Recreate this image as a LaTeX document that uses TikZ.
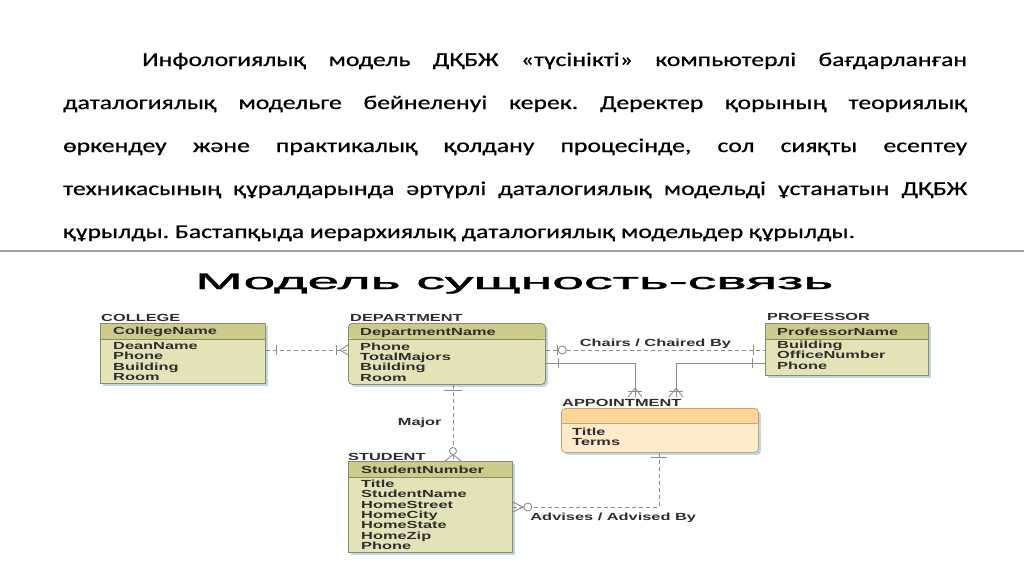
\documentclass[tikz,border=0pt]{standalone}
\usepackage{fontspec}
\setmainfont{Carlito}
\newfontfamily\pfam{Carlito}[FakeBold=0.5]
\newfontfamily\arialf{Liberation Sans}
\newfontfamily\titlef{Liberation Sans}[FakeBold=1.2]
\usetikzlibrary{calc,shadows}
\definecolor{olbody}{HTML}{E4E3B8}
\definecolor{olhead}{HTML}{CDCB8C}
\definecolor{olline}{HTML}{8E8C64}
\definecolor{orbody}{HTML}{FDEBCB}
\definecolor{orhead}{HTML}{FCD699}
\definecolor{orline}{HTML}{C9A36A}
\definecolor{connc}{HTML}{8C8C8C}
\definecolor{dtext}{HTML}{2E2E2E}
\definecolor{shblue}{HTML}{B9D2EC}
\definecolor{sepgray}{HTML}{A0A0A0}
\frenchspacing
\newcommand{\pfont}{\pfam\fontsize{19.5}{43}\selectfont}
\newcommand{\dfont}{\arialf\bfseries\fontsize{10.3}{10}\selectfont}
\def\dsc{1.59}
\newcommand{\dtxt}[1]{\scalebox{\dsc}[1]{\dfont #1}}
\newcommand{\dlist}[1]{\scalebox{\dsc}[1]{\dfont\begin{tabular}[t]{@{}l@{}}#1\end{tabular}}}
\newlength\lastlw
\tikzset{
  entbox/.style={draw=olline, line width=0.8pt, fill=olbody, anchor=north west, inner sep=0pt,
    drop shadow={shadow xshift=2.5pt, shadow yshift=-2.5pt, fill=shblue, opacity=0.9},
    path picture={
      \fill[olhead] (path picture bounding box.north west) rectangle ([yshift=-15.5pt]path picture bounding box.north east);
      \draw[olline, line width=0.8pt] ([yshift=-15.5pt]path picture bounding box.north west) -- ([yshift=-15.5pt]path picture bounding box.north east);
    }},
  apbox/.style={draw=orline, line width=0.8pt, fill=orbody, anchor=north west, inner sep=0pt, rounded corners=4pt,
    drop shadow={shadow xshift=2.5pt, shadow yshift=-2.5pt, fill=shblue, opacity=0.9},
    path picture={
      \fill[orhead] (path picture bounding box.north west) rectangle ([yshift=-15pt]path picture bounding box.north east);
      \draw[orline, line width=0.8pt] ([yshift=-15pt]path picture bounding box.north west) -- ([yshift=-15pt]path picture bounding box.north east);
    }},
  dlabel/.style={anchor=base west, inner sep=0pt, text=dtext},
  pline/.style={anchor=base west, inner sep=0pt, text=black},
  connl/.style={draw=connc, line width=0.9pt},
  connd/.style={draw=connc, line width=0.9pt, dash pattern=on 4pt off 3pt},
}
\begin{document}
\settowidth\lastlw{\pfont құрылды. Бастапқыда иерархиялық даталогиялық модельдер құрылды.}%
\edef\psc{\fpeval{792pt/\the\lastlw}}%
\begin{tikzpicture}[x=1pt,y=-1pt]
\fill[white] (0,0) rectangle (1024,574);
\useasboundingbox (0,0) rectangle (1024,574);
% paragraph
\node[pline] (p1) at (142,66) {\scalebox{\psc}[1]{\hbox to \fpeval{825/\psc}pt{\pfont Инфологиялық модель ДҚБЖ «түсінікті» компьютерлі бағдарланған}}};
\node[pline] (p2) at (63,109) {\scalebox{\psc}[1]{\hbox to \fpeval{904/\psc}pt{\pfont даталогиялық модельге бейнеленуі керек. Деректер қорының теориялық}}};
\node[pline] (p3) at (63,152) {\scalebox{\psc}[1]{\hbox to \fpeval{904/\psc}pt{\pfont өркендеу және практикалық қолдану процесінде, сол сияқты есептеу}}};
\node[pline] (p4) at (63,195) {\scalebox{\psc}[1]{\hbox to \fpeval{904/\psc}pt{\pfont техникасының құралдарында әртүрлі даталогиялық модельді ұстанатын ДҚБЖ}}};
\node[pline] (p5) at (63,238) {\scalebox{\psc}[1]{\pfont құрылды. Бастапқыда иерархиялық даталогиялық модельдер құрылды.}};
% separator
\draw[sepgray, line width=1.6pt] (0,251) -- (1024,251);
% title
\node[anchor=base west, inner sep=0pt] (title) at (195,289) {\resizebox{638pt}{15.5pt}{\titlef Модель сущность-связь}};
% entity boxes
\node[entbox, minimum width=165pt, minimum height=60pt] (college) at (100,323) {};
\node[entbox, rounded corners=4pt, minimum width=197pt, minimum height=61pt] (department) at (348,323) {};
\node[entbox, minimum width=163pt, minimum height=52pt] (professor) at (765,323) {};
\node[apbox, minimum width=197pt, minimum height=44pt] (appointment) at (561,408) {};
\node[entbox, minimum width=164pt, minimum height=91pt] (student) at (348,461) {};
% labels
\node[dlabel] (collegel) at (101,321) {\dtxt{COLLEGE}};
\node[dlabel] (departmentl) at (350,321) {\dtxt{DEPARTMENT}};
\node[dlabel] (professorl) at (767,320.5) {\dtxt{PROFESSOR}};
\node[dlabel] (appointmentl) at (562,406) {\dtxt{APPOINTMENT}};
\node[dlabel] (studentl) at (348,460) {\dtxt{STUDENT}};
% headers and attributes
\node[dlabel] (collegeh) at (113,334.5) {\dtxt{CollegeName}};
\node[dlabel] (collegea) at (113,349.5) {\dlist{DeanName\\Phone\\Building\\Room}};
\node[dlabel] (departmenth) at (360,335) {\dtxt{DepartmentName}};
\node[dlabel] (departmenta) at (360,350) {\dlist{Phone\\TotalMajors\\Building\\Room}};
\node[dlabel] (professorh) at (777,335) {\dtxt{ProfessorName}};
\node[dlabel] (professora) at (777,348.5) {\dlist{Building\\OfficeNumber\\Phone}};
\node[dlabel] (appointmenta) at (572,435) {\dlist{Title\\Terms}};
\node[dlabel] (studenth) at (361,473) {\dtxt{StudentNumber}};
\node[dlabel] (studenta) at (361,487.5) {\dlist{Title\\StudentName\\HomeStreet\\HomeCity\\HomeState\\HomeZip\\Phone}};
% connector end coordinates
\coordinate (c1a) at ([yshift=-27pt]college.north east);
\coordinate (c1b) at ([yshift=-27pt]department.north west);
\coordinate (c2a) at ([yshift=-27pt]department.north east);
\coordinate (c2b) at ([yshift=-27pt]professor.north west);
\coordinate (c3a) at ([yshift=-40pt]department.north east);
\coordinate (c3b) at ([shift={(74pt,11pt)}]appointment.north west);
\coordinate (c4a) at ([yshift=-40pt]professor.north west);
\coordinate (c4b) at ([shift={(115pt,11pt)}]appointment.north west);
\coordinate (c5a) at ([xshift=105pt]department.south west);
\coordinate (c5b) at ([xshift=105pt]student.north west);
\coordinate (c6a) at ([xshift=98pt]appointment.south west);
\coordinate (c6b) at ([yshift=-46pt]student.north east);
% College - Department
\draw[connd] (c1a) -- (c1b);
\draw[connl] (c1a) +(11,-5) -- +(11,5);
\draw[connl] (c1b) +(-12,-5) -- +(-12,5);
\draw[connl] (c1b) +(-8,0) -- +(0,-5) (c1b) +(-8,0) -- +(0,5);
% Department - Professor (Chairs)
\draw[connd] (c2a) -- (c2b) node[midway, anchor=base, yshift=3.5pt, inner sep=0pt, text=dtext] (chairs) {\dtxt{Chairs / Chaired By}};
\draw[connl] (c2a) +(12,-5) -- +(12,5);
\draw[connl, fill=white] ($(c2a)+(16.5,0)$) circle[radius=4pt];
\draw[connl] (c2b) +(-12,-5) -- +(-12,5);
% Department - Appointment
\draw[connl] (c3a) -| (c3b);
\draw[connl] (c3a) +(13,-5) -- +(13,5);
\draw[connl] (c3b) +(-7,-6) -- +(7,-6);
\draw[connl] (c3b) +(0,-9) -- +(-7,0) (c3b) +(0,-9) -- +(7,0);
% Professor - Appointment
\draw[connl] (c4a) -| (c4b);
\draw[connl] (c4a) +(-13,-5) -- +(-13,5);
\draw[connl] (c4b) +(-7,-6) -- +(7,-6);
\draw[connl] (c4b) +(0,-9) -- +(-7,0) (c4b) +(0,-9) -- +(7,0);
% Department - Student (Major)
\draw[connd] (c5a) -- (c5b) node[midway, left=11pt, inner sep=0pt, text=dtext] (major) {\dtxt{Major}};
\draw[connl] (c5a) +(-9,6) -- +(9,6);
\draw[connl] (c5b) +(0,-6.5) -- +(-8,0) (c5b) +(0,-6.5) -- +(8,0);
\draw[connl, fill=white] ($(c5b)+(0,-10)$) circle[radius=3.5pt];
% Appointment - Student (Advises)
\draw[connd] (c6a) |- (c6b);
\path (c6b) -- (c6a |- c6b) node[pos=0.687, anchor=base, yshift=-13pt, inner sep=0pt, text=dtext] (advises) {\dtxt{Advises / Advised By}};
\draw[connl] (c6a) +(-8,5) -- +(8,5);
\draw[connl] (c6b) +(10,0) -- +(0,-5) (c6b) +(10,0) -- +(0,5);
\draw[connl, fill=white] ($(c6b)+(15,0)$) circle[radius=4pt];
\end{tikzpicture}
\end{document}
